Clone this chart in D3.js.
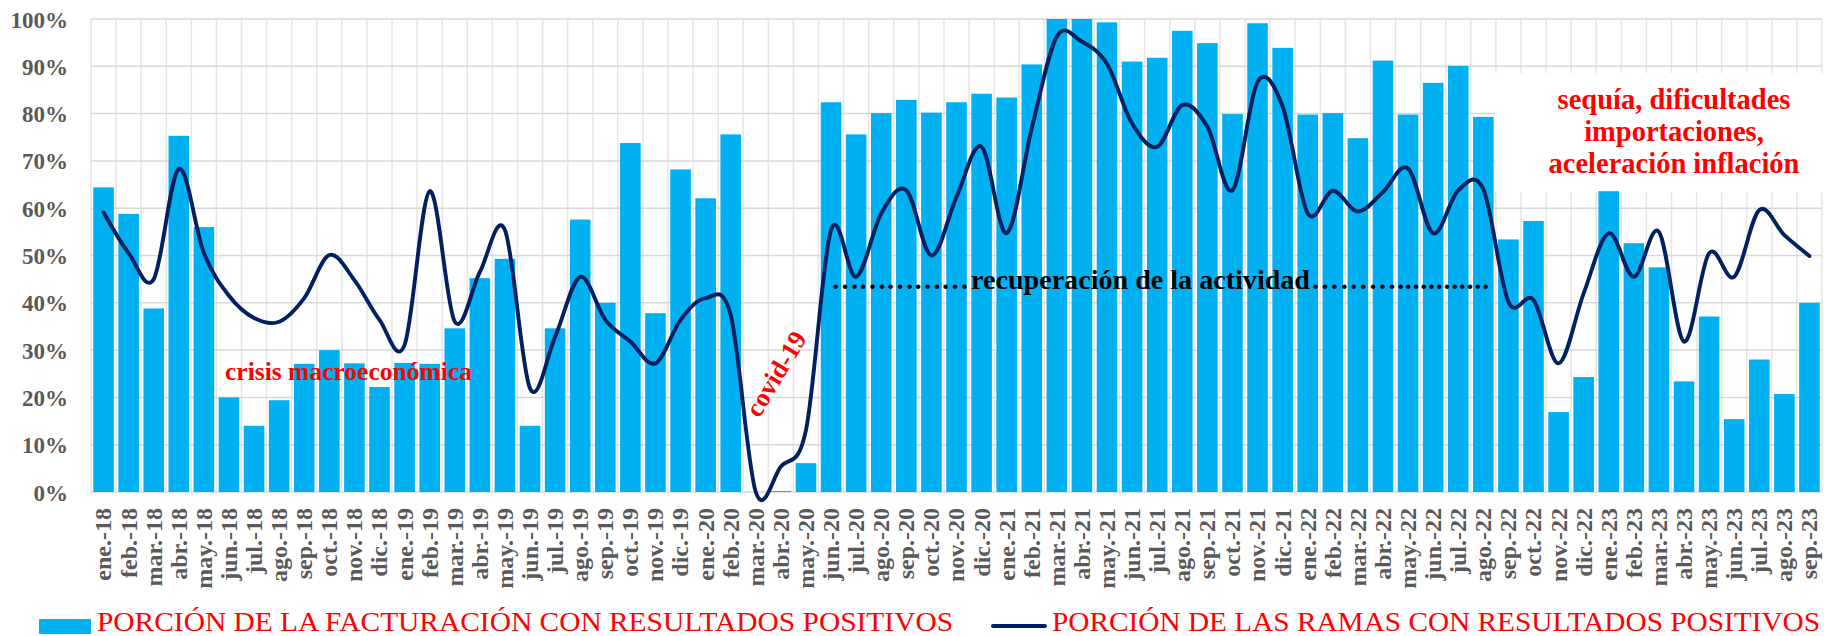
<!DOCTYPE html>
<html>
<head>
<meta charset="utf-8">
<script src="https://cdn.jsdelivr.net/npm/d3@7"></script>
<style>
  html, body { margin: 0; padding: 0; background: #ffffff; }
  svg { display: block; }
</style>
</head>
<body>
<div id="chart"></div>
<script>
// ---------------- DATA ----------------
const months = [
  "ene.-18","feb.-18","mar.-18","abr.-18","may.-18","jun.-18","jul.-18","ago.-18","sep.-18","oct.-18","nov.-18","dic.-18",
  "ene.-19","feb.-19","mar.-19","abr.-19","may.-19","jun.-19","jul.-19","ago.-19","sep.-19","oct.-19","nov.-19","dic.-19",
  "ene.-20","feb.-20","mar.-20","abr.-20","may.-20","jun.-20","jul.-20","ago.-20","sep.-20","oct.-20","nov.-20","dic.-20",
  "ene.-21","feb.-21","mar.-21","abr.-21","may.-21","jun.-21","jul.-21","ago.-21","sep.-21","oct.-21","nov.-21","dic.-21",
  "ene.-22","feb.-22","mar.-22","abr.-22","may.-22","jun.-22","jul.-22","ago.-22","sep.-22","oct.-22","nov.-22","dic.-22",
  "ene.-23","feb.-23","mar.-23","abr.-23","may.-23","jun.-23","jul.-23","ago.-23","sep.-23"
];

// Porción de la facturación con resultados positivos (%)
const facturacion = [
  64.4, 58.8, 38.8, 75.3, 56.0, 20.0, 14.0, 19.4, 27.1, 30.0, 27.2, 22.2,
  27.3, 27.1, 34.6, 45.2, 49.3, 14.0, 34.6, 57.6, 40.0, 73.8, 37.8, 68.2,
  62.1, 75.6, 0.0, 0.2, 6.1, 82.4, 75.6, 80.1, 82.9, 80.2, 82.4, 84.2,
  83.4, 90.4, 100.0, 100.0, 99.3, 91.0, 91.8, 97.5, 94.9, 79.9, 99.1, 93.9,
  79.8, 80.1, 74.8, 91.2, 79.8, 86.5, 90.1, 79.3, 53.4, 57.3, 16.9, 24.3,
  63.6, 52.6, 47.5, 23.4, 37.1, 15.4, 28.0, 20.7, 40.0
];

// Porción de las ramas con resultados positivos (%)
const ramas = [
  59.1, 50.5, 45.0, 68.3, 50.5, 41.5, 36.8, 36.0, 41.0, 50.1, 44.8, 36.4,
  31.1, 63.6, 36.0, 46.5, 55.4, 21.9, 32.8, 45.5, 36.4, 31.8, 27.2, 36.4,
  41.0, 37.4, 0.0, 5.4, 13.1, 55.4, 45.5, 58.9, 63.8, 50.0, 62.4, 73.0,
  54.7, 76.9, 96.3, 95.2, 90.5, 77.9, 73.0, 81.8, 77.2, 63.8, 86.7, 81.5,
  58.9, 63.7, 59.3, 63.4, 68.4, 54.7, 63.8, 64.0, 40.2, 40.6, 27.2, 42.0,
  54.7, 45.5, 55.0, 31.8, 50.5, 45.5, 59.6, 54.3, 49.9
];

const yTicks = [0, 10, 20, 30, 40, 50, 60, 70, 80, 90, 100];

const legendLabels = [
  "PORCIÓN DE LA FACTURACIÓN CON RESULTADOS POSITIVOS",
  "PORCIÓN DE LAS RAMAS CON RESULTADOS POSITIVOS"
];

const annotCrisis = "crisis macroeconómica";
const annotCovid = "covid-19";
const annotRecup = ["……………", "recuperación de la actividad", "………............"];
const annotSequia = ["sequía, dificultades", "importaciones,", "aceleración inflación"];

// ---------------- LAYOUT ----------------
const W = 1824, H = 636;
const plot = { left: 91, right: 1822, top: 19, bottom: 492 };

const BAR = "#00B0F0", LINE = "#002060", RED = "#FF0000", GREY = "#595959", GRID = "#d9d9d9";
const SERIF = "'Liberation Serif', 'Times New Roman', serif";

const svg = d3.select("#chart").append("svg")
  .attr("width", W).attr("height", H);

const x = d3.scaleBand()
  .domain(months)
  .range([plot.left, plot.right])
  .paddingInner(0.18)
  .paddingOuter(0.09);

const y = d3.scaleLinear()
  .domain([0, 100])
  .range([plot.bottom, plot.top]);

const step = x.step();
const x0 = x.range()[0];

// ---------- gridlines ----------
const grid = svg.append("g");
grid.selectAll("line.v")
  .data(d3.range(months.length + 1))
  .join("line")
  .attr("x1", i => x0 + i * step).attr("x2", i => x0 + i * step)
  .attr("y1", plot.top).attr("y2", plot.bottom)
  .attr("stroke", "#e6e6e6").attr("stroke-width", 1.5);

grid.selectAll("line.h")
  .data(yTicks)
  .join("line")
  .attr("x1", plot.left).attr("x2", plot.right)
  .attr("y1", d => y(d)).attr("y2", d => y(d))
  .attr("stroke", GRID).attr("stroke-width", 1.5);

// white box behind the "sequía" annotation
svg.append("rect")
  .attr("x", 1495).attr("y", 73)
  .attr("width", plot.right + 1 - 1495).attr("height", 119)
  .attr("fill", "#ffffff");

// ---------- bars ----------
svg.append("g").selectAll("rect")
  .data(facturacion)
  .join("rect")
  .attr("x", (d, i) => x(months[i]))
  .attr("width", x.bandwidth())
  .attr("y", d => y(d))
  .attr("height", d => y(0) - y(d))
  .attr("fill", BAR);

// ---------- line ----------
const lineGen = d3.line()
  .x((d, i) => x(months[i]) + x.bandwidth() / 2)
  .y(d => y(d))
  .curve(d3.curveCardinal.tension(0));

svg.append("path")
  .datum(ramas)
  .attr("d", lineGen)
  .attr("fill", "none")
  .attr("stroke", LINE)
  .attr("stroke-width", 3.9)
  .attr("stroke-linejoin", "round")
  .attr("stroke-linecap", "round");

// ---------- axes ----------
const yAxis = svg.append("g")
  .attr("transform", `translate(68,0)`)
  .call(d3.axisLeft(y).tickValues(yTicks).tickSize(0).tickPadding(0).tickFormat(d => d + "%"));
yAxis.select(".domain").remove();
yAxis.selectAll("text")
  .attr("x", 0)
  .attr("dy", "0.35em")
  .style("font-family", SERIF)
  .style("font-weight", "bold")
  .style("font-size", "23px")
  .attr("fill", GREY);

const xAxis = svg.append("g")
  .attr("transform", `translate(0,${plot.bottom})`)
  .call(d3.axisBottom(x).tickSize(0));
xAxis.select(".domain").remove();
xAxis.selectAll("text")
  .attr("transform", "rotate(-90)")
  .attr("x", -16)
  .attr("y", 0)
  .attr("dy", "0.33em")
  .attr("text-anchor", "end")
  .style("font-family", SERIF)
  .style("font-weight", "bold")
  .style("font-size", "24px")
  .attr("fill", GREY);

// ---------- annotations ----------
svg.append("text")
  .attr("x", 225).attr("y", 380)
  .attr("textLength", 247).attr("lengthAdjust", "spacingAndGlyphs")
  .style("font-family", SERIF).style("font-weight", "bold").style("font-size", "25px")
  .attr("fill", RED)
  .text(annotCrisis);

svg.append("text")
  .attr("transform", "translate(776,374) rotate(-59)")
  .attr("text-anchor", "middle")
  .attr("dy", "0.33em")
  .style("font-family", SERIF).style("font-weight", "bold").style("font-size", "26px")
  .attr("fill", RED)
  .text(annotCovid);

const recupX = [831, 971, 1311];
const recupLen = [138, 339, 178];
svg.append("g").selectAll("text")
  .data(annotRecup)
  .join("text")
  .attr("x", (d, i) => recupX[i]).attr("y", 289)
  .attr("textLength", (d, i) => recupLen[i])
  .attr("lengthAdjust", (d, i) => i === 1 ? "spacingAndGlyphs" : "spacing")
  .style("font-family", SERIF).style("font-weight", "bold").style("font-size", "28px")
  .attr("fill", "#000000")
  .text(d => d);

const seqY = [109, 141, 173];
svg.append("g").selectAll("text")
  .data(annotSequia)
  .join("text")
  .attr("x", 1674)
  .attr("y", (d, i) => seqY[i])
  .attr("text-anchor", "middle")
  .style("font-family", SERIF).style("font-weight", "bold").style("font-size", "28.5px")
  .attr("fill", RED)
  .text(d => d);

// ---------- legend ----------
svg.append("rect")
  .attr("x", 39).attr("y", 619).attr("width", 52).attr("height", 15)
  .attr("fill", BAR);
svg.append("text")
  .attr("x", 97).attr("y", 631)
  .attr("textLength", 856).attr("lengthAdjust", "spacingAndGlyphs")
  .style("font-family", SERIF).style("font-size", "28px")
  .attr("fill", RED)
  .text(legendLabels[0]);

svg.append("line")
  .attr("x1", 993).attr("x2", 1045).attr("y1", 626).attr("y2", 626)
  .attr("stroke", LINE).attr("stroke-width", 4).attr("stroke-linecap", "round");
svg.append("text")
  .attr("x", 1052).attr("y", 631)
  .attr("textLength", 768).attr("lengthAdjust", "spacingAndGlyphs")
  .style("font-family", SERIF).style("font-size", "28px")
  .attr("fill", RED)
  .text(legendLabels[1]);
</script>
</body>
</html>
